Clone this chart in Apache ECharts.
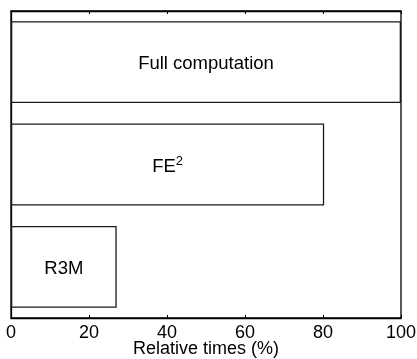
<!DOCTYPE html>
<html>
<head>
<meta charset="utf-8">
<script src="https://cdn.jsdelivr.net/npm/echarts@6/dist/echarts.min.js"></script>
<style>
  html, body { margin: 0; padding: 0; background: #fff; }
  #chart { width: 417px; height: 359px; }
</style>
</head>
<body>
<div id="chart"></div>
<script>
// Methods compared, top to bottom
const methods = ['Full computation', 'FE2', 'R3M'];
// Computation time relative to the full computation (%)
const relativeTimes = [100, 80.3, 27.1];
// Horizontal axis ticks
const xTicks = [0, 20, 40, 60, 80, 100];

const FONT = '"Liberation Sans", Arial, Helvetica, sans-serif';
const chart = echarts.init(document.getElementById('chart'));

chart.setOption({
  animation: false,
  backgroundColor: '#fff',
  grid: {
    left: 11, right: 16, top: 11, bottom: 41,
    outerBoundsMode: 'none', containLabel: false,
    show: true, borderColor: '#000', borderWidth: 1.3, backgroundColor: 'transparent'
  },
  xAxis: [
    {
      type: 'value', position: 'bottom',
      min: xTicks[0], max: xTicks[xTicks.length - 1], interval: 20,
      name: 'Relative times (%)', nameLocation: 'middle', nameGap: 22,
      nameMoveOverlap: false,
      nameTextStyle: { fontFamily: FONT, fontSize: 18, color: '#000' },
      axisLine: { show: true, lineStyle: { color: '#000', width: 1.3 } },
      axisTick: { show: true, inside: true, length: 3, lineStyle: { color: '#000' } },
      axisLabel: { margin: 6, fontFamily: FONT, fontSize: 18, color: '#000' },
      splitLine: { show: false }
    },
    {
      type: 'value', position: 'top',
      min: xTicks[0], max: xTicks[xTicks.length - 1], interval: 20,
      axisLine: { show: true, lineStyle: { color: '#000', width: 1.3 } },
      axisTick: { show: true, inside: true, length: 3, lineStyle: { color: '#000' } },
      axisLabel: { show: false },
      splitLine: { show: false }
    }
  ],
  yAxis: {
    type: 'category', data: methods, inverse: true,
    axisLine: { show: true, lineStyle: { color: '#000', width: 1.3 } },
    axisTick: { show: false },
    axisLabel: { show: false },
    splitLine: { show: false }
  },
  series: [{
    type: 'bar',
    data: relativeTimes,
    barCategoryGap: '20%',
    itemStyle: { color: '#fff', borderColor: '#1a1a1a', borderWidth: 1.3 },
    label: {
      show: true, position: 'inside', color: '#000',
      fontFamily: FONT, fontSize: 18.5, offset: [0, 2],
      formatter: p => p.name === 'FE2' ? '{b|FE}{s|2}' : p.name,
      rich: {
        b: { fontFamily: FONT, fontSize: 18.5, color: '#000' },
        s: { fontFamily: FONT, fontSize: 13, color: '#000', verticalAlign: 'top', padding: [0, 0, 10, 0] }
      }
    }
  }]
});
</script>
</body>
</html>
